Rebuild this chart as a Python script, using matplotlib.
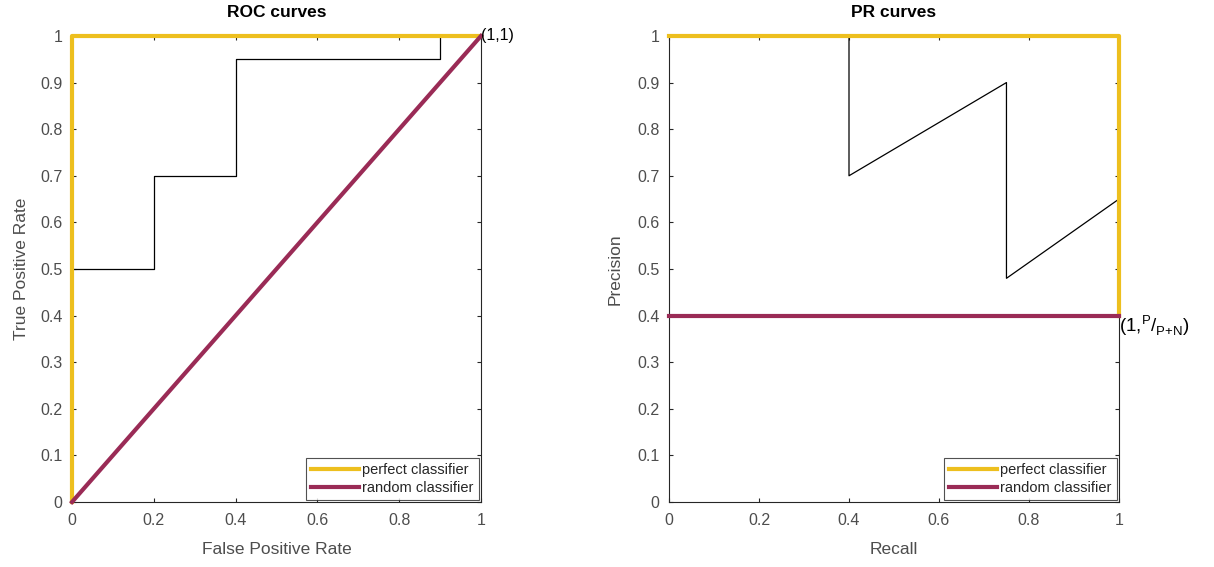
import numpy as np
import matplotlib.pyplot as plt

plt.rcParams['font.family'] = ['Liberation Sans', 'DejaVu Sans']
plt.rcParams['mathtext.fontset'] = 'custom'
plt.rcParams['mathtext.rm'] = 'Liberation Sans'

# ROC data
roc_fpr = [0, 0, 0.2, 0.2, 0.4, 0.4, 0.9, 0.9, 1]
roc_tpr = [0, 0.5, 0.5, 0.7, 0.7, 0.95, 0.95, 1, 1]
perfect_roc_x = [0, 0, 1]
perfect_roc_y = [0, 1, 1]
random_roc_x = [0, 1]
random_roc_y = [0, 1]

# PR data
pr_recall = [0, 0.4, 0.4, 0.75, 0.75, 1, 1]
pr_precision = [1, 1, 0.7, 0.9, 0.48, 0.65, 0.4]
perfect_pr_x = [0, 1, 1]
perfect_pr_y = [1, 1, 0.4]
random_pr_x = [0, 1]
random_pr_y = [0.4, 0.4]

xticks = [0, 0.2, 0.4, 0.6, 0.8, 1]
yticks = [0, 0.1, 0.2, 0.3, 0.4, 0.5, 0.6, 0.7, 0.8, 0.9, 1]

yellow = '#EDBF1E'
maroon = '#9A2B56'
grey = '#4D4D4D'

fig = plt.figure(figsize=(12.14, 5.67), dpi=100)
ax1 = fig.add_axes([0.0593, 0.1146, 0.3369, 0.822])
ax2 = fig.add_axes([0.5511, 0.1146, 0.3706, 0.822])


def style_axes(ax):
    ax.set_xlim(0, 1)
    ax.set_ylim(0, 1)
    ax.set_xticks(xticks)
    ax.set_yticks(yticks)
    ax.set_xticklabels([f"{t:g}" for t in xticks])
    ax.set_yticklabels([f"{t:g}" for t in yticks])
    ax.tick_params(direction='in', top=True, right=True, length=3,
                   labelsize=11.5, colors='#262626', labelcolor=grey)
    ax.tick_params(axis='x', pad=8)
    ax.tick_params(axis='y', pad=7)
    for s in ax.spines.values():
        s.set_linewidth(0.8)
        s.set_color('#262626')


def add_legend(ax):
    leg = ax.legend(loc='lower right', fontsize=10.5, fancybox=False,
                    edgecolor='#262626', borderpad=0.35, handlelength=3.3,
                    handletextpad=0.2, labelspacing=0.25, borderaxespad=0.15)
    leg.get_frame().set_linewidth(0.8)
    for t in leg.get_texts():
        t.set_color('#262626')


# ROC panel
ax1.plot(roc_fpr, roc_tpr, color='black', lw=0.9, clip_on=False)
ax1.plot(perfect_roc_x, perfect_roc_y, color=yellow, lw=3, clip_on=False,
         zorder=3, label='perfect classifier')
ax1.plot(random_roc_x, random_roc_y, color=maroon, lw=3, clip_on=False,
         zorder=3, label='random classifier')
ax1.text(1, 1, '(1,1)', ha='left', va='center', fontsize=11.5)
style_axes(ax1)
ax1.set_title('ROC curves', fontsize=12.5, fontweight='bold', pad=14)
ax1.set_xlabel('False Positive Rate', fontsize=12.5, color=grey, labelpad=10)
ax1.set_ylabel('True Positive Rate', fontsize=12.5, color=grey, labelpad=8)
add_legend(ax1)

# PR panel
ax2.plot(pr_recall, pr_precision, color='black', lw=0.9, clip_on=False)
ax2.plot(perfect_pr_x, perfect_pr_y, color=yellow, lw=3, clip_on=False,
         zorder=3, label='perfect classifier')
ax2.plot(random_pr_x, random_pr_y, color=maroon, lw=3, clip_on=False,
         zorder=3, label='random classifier')
ax2.text(1, 0.405, r'(1,$^{\mathrm{P}}/_{\mathrm{P{+}N}}$)', ha='left',
         va='top', fontsize=13.5)
style_axes(ax2)
ax2.set_title('PR curves', fontsize=12.5, fontweight='bold', pad=14)
ax2.set_xlabel('Recall', fontsize=12.5, color=grey, labelpad=10)
ax2.set_ylabel('Precision', fontsize=12.5, color=grey, labelpad=10)
add_legend(ax2)

fig.savefig('out.png', dpi=100)
